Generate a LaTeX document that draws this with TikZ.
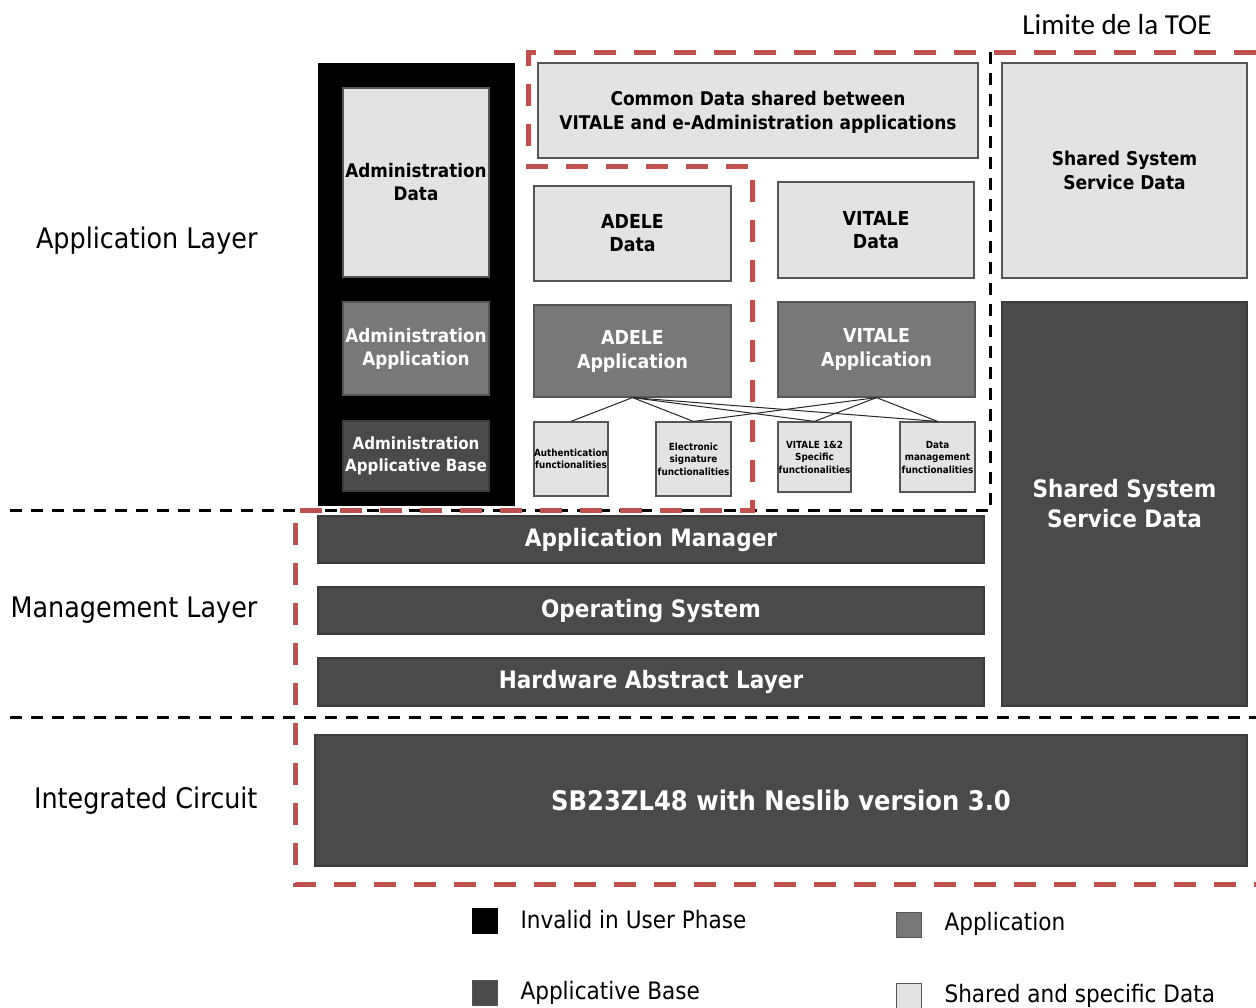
\documentclass[tikz,border=0pt]{standalone}
\usepackage{fontspec}
\setmainfont{DejaVu Sans}[FakeStretch=0.90]
\newfontfamily\calib{Carlito}
\definecolor{lightg}{HTML}{E3E3E3}
\definecolor{midg}{HTML}{787878}
\definecolor{darkg}{HTML}{4A4A4A}
\definecolor{edgeg}{HTML}{555555}
\definecolor{toered}{HTML}{C0504D}
\tikzset{
  box/.style={draw=edgeg, line width=1.2pt, align=center, inner sep=0pt, font=\bfseries},
  lbox/.style={box, fill=lightg, text=black},
  mbox/.style={box, fill=midg, text=white},
  dbox/.style={box, fill=darkg, text=white, draw=darkg!80!black},
  conn/.style={draw=black!85, line width=1pt},
  bdash/.style={draw=black, line width=3pt, dash pattern=on 12pt off 9pt},
  rdash/.style={draw=toered, line width=5pt, dash pattern=on 22pt off 18pt},
  lay/.style={anchor=east, font=\fontsize{28.3}{31}\selectfont},
  leg/.style={anchor=west, font=\fontsize{24}{27}\selectfont},
  sq/.style={draw=edgeg, line width=1pt, minimum width=25pt, minimum height=25pt, inner sep=0pt}
}
\begin{document}
\begin{tikzpicture}[x=1pt,y=-1pt]
\useasboundingbox (0,0) rectangle (1256,1007);
\fill[white] (0,0) rectangle (1256,1007);

% title
\node[font=\calib\fontsize{29}{32}\selectfont] (toe) at (1117,25) {Limite de la TOE};

% layer labels
\node[lay] (lapp) at (261,241) {Application Layer};
\node[lay] (lman) at (261,610) {Management Layer};
\node[lay] (lic) at (261,801) {Integrated Circuit};

% black dashed separators
\draw[bdash] (10,510) -- (990,510);
\draw[bdash] (990,52) -- (990,510);
\draw[bdash] (10,717) -- (1256,717);

% administration column
\node[fill=black, draw=black, minimum width=196pt, minimum height=442pt, inner sep=0pt] (blk) at (416,284) {};
\node[lbox, minimum width=146pt, minimum height=189pt, font=\bfseries\fontsize{18.7}{23}\selectfont] (admd) at (416,182.5) {Administration\\Data};
\node[mbox, minimum width=146pt, minimum height=93pt, font=\bfseries\fontsize{18.7}{23}\selectfont] (adma) at (416,348.5) {Administration\\Application};
\node[dbox, minimum width=146pt, minimum height=70pt, font=\bfseries\fontsize{16.8}{22}\selectfont] (admb) at (416,456) {Administration\\Applicative Base};

% data boxes
\node[lbox, minimum width=440pt, minimum height=95pt, font=\bfseries\fontsize{18.9}{24}\selectfont, text depth=-4pt] (common) at (758,110.5) {Common Data shared between\\VITALE and e-Administration applications};
\node[lbox, minimum width=197pt, minimum height=95pt, font=\bfseries\fontsize{19.3}{23}\selectfont] (adeled) at (632.5,233.5) {ADELE\\Data};
\node[lbox, minimum width=196pt, minimum height=96pt, font=\bfseries\fontsize{19.3}{23}\selectfont] (vitaled) at (876,230) {VITALE\\Data};
\node[mbox, minimum width=197pt, minimum height=92pt, font=\bfseries\fontsize{19.3}{24}\selectfont] (adelea) at (632.5,351) {ADELE\\Application};
\node[mbox, minimum width=197pt, minimum height=95pt, font=\bfseries\fontsize{19.3}{24}\selectfont] (vitalea) at (876.5,349.5) {VITALE\\Application};

% functionality boxes
\tikzset{fbox/.style={lbox, font=\bfseries\fontsize{9.8}{12.5}\selectfont}}
\node[fbox, minimum width=74pt, minimum height=74pt] (auth) at (571,459) {Authentication\\functionalities};
\node[fbox, minimum width=75pt, minimum height=74pt] (esig) at (693.5,459) {Electronic\\signature\\functionalities};
\node[fbox, minimum width=73pt, minimum height=70pt] (v12) at (814.5,457) {VITALE 1\&2\\Specific\\functionalities};
\node[fbox, minimum width=75pt, minimum height=70pt] (dmg) at (937.5,457) {Data\\management\\functionalities};

% connectors
\draw[conn] (adelea.south) -- (auth.north);
\draw[conn] (adelea.south) -- (esig.north);
\draw[conn] (adelea.south) -- (v12.north);
\draw[conn] (adelea.south) -- (dmg.north);
\draw[conn] (vitalea.south) -- (esig.north);
\draw[conn] (vitalea.south) -- (v12.north);
\draw[conn] (vitalea.south) -- (dmg.north);

% shared system service data
\node[lbox, minimum width=245pt, minimum height=215pt, font=\bfseries\fontsize{19}{24}\selectfont] (ssd1) at (1124.5,170.5) {Shared System\\Service Data};
\node[dbox, minimum width=245pt, minimum height=404pt, font=\bfseries\fontsize{24}{30}\selectfont] (ssd2) at (1124.5,504) {Shared System\\Service Data};

% management layer
\node[dbox, minimum width=666pt, minimum height=47pt, font=\bfseries\fontsize{24}{28}\selectfont] (am) at (651,539.5) {Application Manager};
\node[dbox, minimum width=666pt, minimum height=47pt, font=\bfseries\fontsize{24}{28}\selectfont] (os) at (651,610.5) {Operating System};
\node[dbox, minimum width=666pt, minimum height=48pt, font=\bfseries\fontsize{24}{28}\selectfont] (hal) at (651,682) {Hardware Abstract Layer};

% integrated circuit
\node[dbox, minimum width=932pt, minimum height=131pt, font=\bfseries\fontsize{27}{30}\selectfont] (sb) at (781,800.5) {SB23ZL48 with Neslib version 3.0};

% TOE boundary
\draw[rdash] (1256,52) -- (528,52) -- (528,166) -- (752,166) -- (752,510) -- (295,510) -- (295,884) -- (1256,884);

% legend
\node[sq, fill=black, draw=black] (sq1) at (484.5,920.5) {};
\node[leg] (t1) at (517,920) {Invalid in User Phase};
\node[sq, fill=midg] (sq2) at (909,924.5) {};
\node[leg] (t2) at (941,924) {Application};
\node[sq, fill=darkg] (sq3) at (484.5,993) {};
\node[leg] (t3) at (517,993) {Applicative Base};
\node[sq, fill=lightg] (sq4) at (909,996) {};
\node[leg] (t4) at (941,996) {Shared and specific Data};
\end{tikzpicture}
\end{document}
